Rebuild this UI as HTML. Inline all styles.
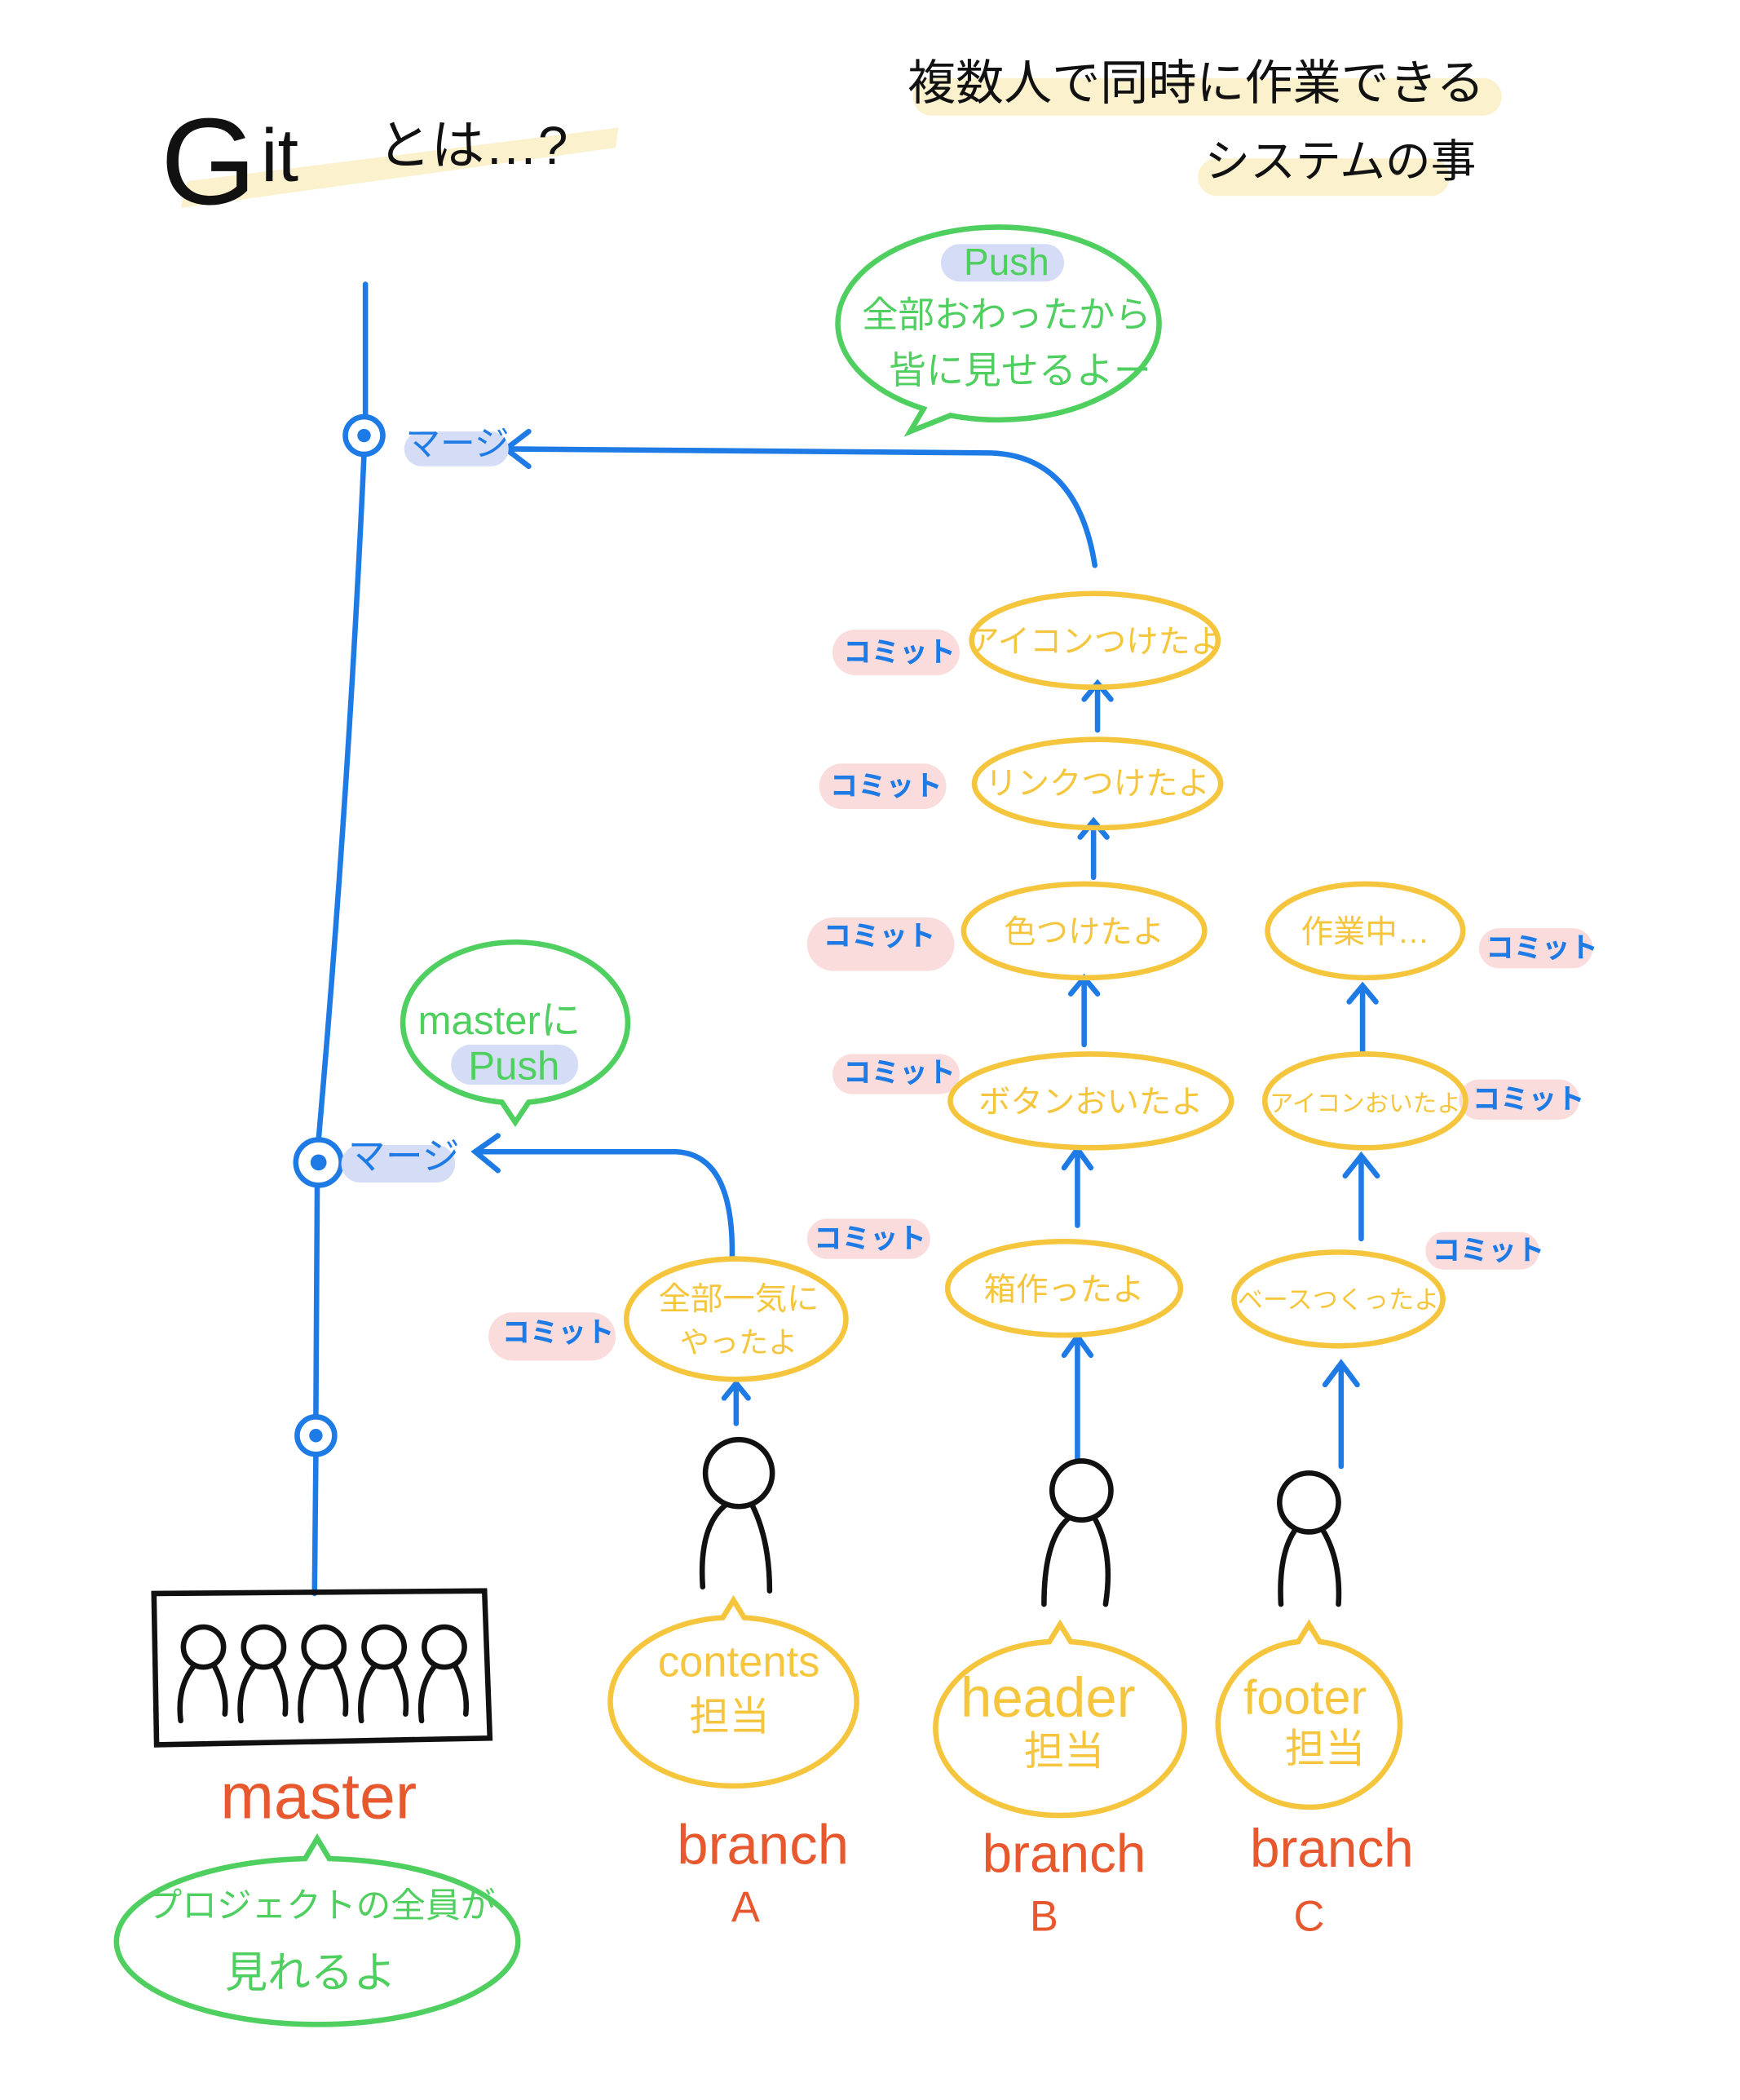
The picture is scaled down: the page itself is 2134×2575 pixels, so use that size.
<!DOCTYPE html>
<html><head><meta charset="utf-8"><style>
html,body{margin:0;padding:0;background:#fff;}
svg{display:block;}
text{font-family:"Liberation Sans","Noto Sans CJK JP",sans-serif;}
</style></head><body>
<svg width="2134" height="2575" viewBox="0 0 1300 1568" xmlns="http://www.w3.org/2000/svg">
<!-- highlights -->
<path d="M135,155 L460,110 L462,95 L140,135 Z" fill="#fbf1cc"/>
<rect x="682" y="58" width="440" height="28" rx="14" fill="#fbf1cc"/>
<rect x="895" y="118" width="188" height="28" rx="14" fill="#fbf1cc"/>
<!-- titles -->
<text x="120" y="152" font-size="92" fill="#111" font-family="Liberation Sans">G</text>
<text x="195" y="135" font-size="56" fill="#111" font-family="Liberation Sans">it</text>
<text x="282" y="122" font-size="40" fill="#111">とは…?</text>
<text x="678" y="74" font-size="36" fill="#111">複数人で同時に作業できる</text>
<text x="900" y="132" font-size="34" fill="#111">システムの事</text>

<g fill="none" stroke="#1e7be6" stroke-width="4" stroke-linecap="round">
<path d="M273,212 L273,311 M272,339 Q260,600 238,851 M237,885 L236,1058 M236,1086 L235,1190"/>
<circle cx="272" cy="325" r="14"/><circle cx="238" cy="868" r="17"/><circle cx="236" cy="1072" r="14"/>
<path d="M818,422 Q805,340 740,338 L378,335 M395,322 L378,335 L395,348"/>
<path d="M547,938 Q548,862 505,860 L355,860 M372,848 L355,860 L372,874"/>
<path d="M820,545 L820,512 M810,522 L820,510 L830,522"/>
<path d="M817,655 L817,615 M807,625 L817,613 L827,625"/>
<path d="M810,780 L810,732 M800,742 L810,730 L820,742"/>
<path d="M805,915 L805,860 M795,872 L805,858 L815,872"/>
<path d="M805,1090 L805,1000 M795,1012 L805,998 L815,1012"/>
<path d="M1018,785 L1018,738 M1008,748 L1018,736 L1028,748"/>
<path d="M1017,925 L1017,865 M1005,878 L1017,863 L1029,878"/>
<path d="M1002,1095 L1002,1020 M990,1034 L1002,1018 L1014,1034"/>
<path d="M550,1063 L550,1035 M541,1044 L550,1033 L559,1044"/>
</g>
<g fill="#1e7be6"><circle cx="272" cy="325" r="5"/><circle cx="238" cy="868" r="6"/><circle cx="236" cy="1072" r="5"/></g>
<rect x="302" y="322" width="78" height="26" rx="13" fill="#d5dcf5"/>
<rect x="255" y="855" width="85" height="28" rx="14" fill="#d5dcf5"/>
<text x="303" y="340" font-size="26" fill="#1e7be6">マージ</text>
<text x="260" y="873" font-size="28" fill="#1e7be6">マージ</text>

<g fill="#fadcdc">
<rect x="622" y="470" width="95" height="34" rx="17"/>
<rect x="612" y="570" width="95" height="34" rx="17"/>
<rect x="603" y="685" width="110" height="40" rx="20"/>
<rect x="622" y="787" width="95" height="30" rx="15"/>
<rect x="603" y="910" width="92" height="30" rx="15"/>
<rect x="365" y="980" width="95" height="36" rx="18"/>
<rect x="1105" y="693" width="85" height="30" rx="15"/>
<rect x="1090" y="806" width="90" height="30" rx="15"/>
<rect x="1065" y="920" width="85" height="28" rx="14"/>
</g>
<g fill="#1e7be6" font-size="21" font-weight="bold">
<text x="630" y="494">コミット</text>
<text x="620" y="594">コミット</text>
<text x="615" y="706">コミット</text>
<text x="630" y="808">コミット</text>
<text x="608" y="932">コミット</text>
<text x="375" y="1002">コミット</text>
<text x="1110" y="715">コミット</text>
<text x="1100" y="828">コミット</text>
<text x="1070" y="941">コミット</text>
</g>

<g fill="none" stroke="#f5c63d" stroke-width="4">
<ellipse cx="818" cy="478" rx="92" ry="35"/>
<ellipse cx="820" cy="585" rx="92" ry="33"/>
<ellipse cx="810" cy="695" rx="90" ry="35"/>
<ellipse cx="815" cy="822" rx="105" ry="35"/>
<ellipse cx="795" cy="962" rx="87" ry="35"/>
<ellipse cx="1020" cy="695" rx="73" ry="35"/>
<ellipse cx="1020" cy="822" rx="75" ry="35"/>
<ellipse cx="1000" cy="970" rx="78" ry="35"/>
<ellipse cx="550" cy="985" rx="82" ry="45"/>
<path d="M548,1195 L540,1208 A92,63 0 1 0 556,1208 Z"/>
<path d="M792,1213 L784,1226 A93,65 0 1 0 800,1226 Z"/>
<path d="M978,1213 L970,1226 A68,62 0 1 0 986,1226 Z"/>
</g>
<g fill="#f5c63d" font-size="24" text-anchor="middle">
<text x="818" y="487">アイコンつけたよ</text>
<text x="820" y="593">リンクつけたよ</text>
<text x="810" y="704">色つけたよ</text>
<text x="815" y="831">ボタンおいたよ</text>
<text x="795" y="971">箱作ったよ</text>
<text x="1020" y="704">作業中…</text>
<text x="1020" y="830" font-size="18">アイコンおいたよ</text>
<text x="1000" y="977" font-size="19">ベースつくったよ</text>
<text x="552" y="978" font-size="24">全部一気に</text>
<text x="552" y="1010" font-size="22">やったよ</text>
<text x="552" y="1252" font-size="32">contents</text>
<text x="545" y="1292" font-size="30">担当</text>
<text x="783" y="1282" font-size="42">header</text>
<text x="795" y="1318" font-size="30">担当</text>
<text x="975" y="1280" font-size="36">footer</text>
<text x="990" y="1316" font-size="30">担当</text>
</g>

<g fill="none" stroke="#111" stroke-width="4" stroke-linecap="round">
<circle cx="552" cy="1100" r="25"/><path d="M542,1124 Q522,1140 525,1185 M562,1124 Q575,1150 575,1188"/>
<circle cx="808" cy="1113" r="22"/><path d="M798,1134 Q780,1150 780,1198 M818,1134 Q832,1160 826,1198"/>
<circle cx="978" cy="1122" r="22"/><path d="M968,1142 Q955,1160 957,1198 M988,1142 Q1002,1165 1000,1198"/>
<path d="M115,1190 L362,1188 L366,1298 L117,1303 Z"/>
<g id="p"><circle cx="152" cy="1230" r="15"/><path d="M145,1244 Q132,1260 135,1285 M160,1244 Q170,1262 168,1280"/></g>
<use href="#p" x="45"/><use href="#p" x="90"/><use href="#p" x="135"/><use href="#p" x="180"/>
</g>

<g fill="#e8582e" text-anchor="middle">
<text x="238" y="1358" font-size="48">master</text>
<text x="570" y="1392" font-size="42">branch</text>
<text x="557" y="1435" font-size="32">A</text>
<text x="795" y="1398" font-size="40">branch</text>
<text x="780" y="1442" font-size="32">B</text>
<text x="995" y="1394" font-size="40">branch</text>
<text x="978" y="1442" font-size="32">C</text>
</g>

<g fill="none" stroke="#4fcf5f" stroke-width="4">
<path d="M237,1373 L228,1388 A150,62 0 1 0 246,1388 Z"/>
<path d="M680,322 L690,305 A120,72 0 1 1 710,310 Z"/>
<path d="M385,838 L375,823 A84,60 0 1 1 395,823 Z"/>
</g>
<rect x="703" y="182" width="92" height="28" rx="14" fill="#d5dcf5"/>
<rect x="337" y="780" width="95" height="30" rx="15" fill="#d5dcf5"/>
<g fill="#4fcf5f" text-anchor="middle">
<text x="752" y="205" font-size="28">Push</text>
<text x="752" y="244" font-size="27">全部おわったから</text>
<text x="762" y="286" font-size="28">皆に見せるよー</text>
<text x="373" y="772" font-size="30">masterに</text>
<text x="384" y="806" font-size="30">Push</text>
<text x="240" y="1432" font-size="26">プロジェクトの全員が</text>
<text x="232" y="1484" font-size="32">見れるよ</text>
</g>
</svg>
</body></html>
